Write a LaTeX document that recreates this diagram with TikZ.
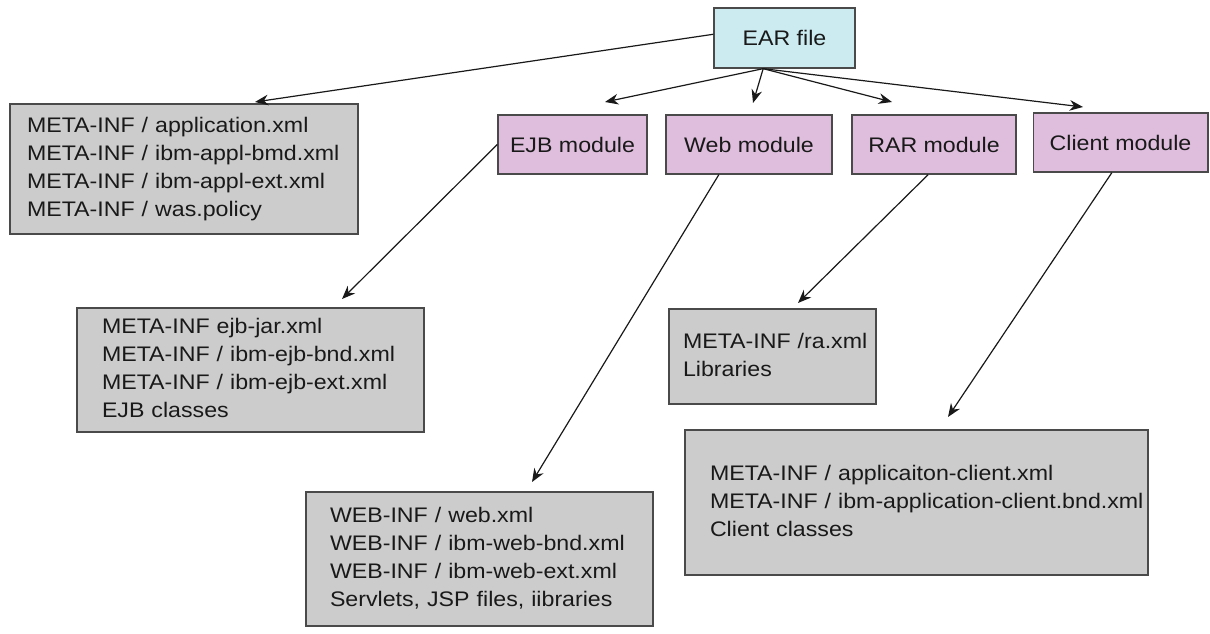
\documentclass[tikz,border=0pt]{standalone}
\usepackage{fontspec}
\setmainfont{Liberation Sans}[FakeStretch=1.1]
\usetikzlibrary{arrows.meta,calc,positioning}

\definecolor{earfill}{HTML}{CBEBF1}
\definecolor{modfill}{HTML}{DFBEDD}
\definecolor{filefill}{HTML}{CCCCCC}
\definecolor{edgegray}{HTML}{4A4A4A}

% one unbroken line per entry
\newcommand{\filelist}[1]{\begin{tabular}{@{}l@{}}#1\end{tabular}}

\tikzset{
  box/.style={rectangle, draw=edgegray, line width=1pt, text=black!90},
  earbox/.style={box, fill=earfill, minimum width=105.75pt, minimum height=45pt},
  modbox/.style={box, fill=modfill, minimum height=44.25pt},
  filebox/.style={box, fill=filefill, align=left},
  arr/.style={-{Stealth[length=10pt,width=8pt]}, line width=0.9pt, black!90}
}

\begin{document}
\begin{tikzpicture}[x=0.75pt,y=-0.75pt,font=\fontsize{15.8pt}{21pt}\selectfont]
    \useasboundingbox (0,0) rectangle (1210,634);

    \node(ear) [earbox] at (784.5,38) {EAR file};

    \node(ejb) [modbox, minimum width=111.75pt] at (572.5,144.5) {EJB module};
    \node(web) [modbox, minimum width=124.5pt] at (749,144.5) {Web module};
    \node(rar) [modbox, minimum width=123pt] at (934,144.5) {RAR module};
    \node(client) [modbox, minimum width=131pt] at (1120.5,142.5) {Client module};

    \node(app) [filebox, text width=235.5pt, inner xsep=12.75pt, minimum height=97.5pt] at (184,169)
      {\filelist{META-INF / application.xml\\META-INF / ibm-appl-bmd.xml\\META-INF / ibm-appl-ext.xml\\META-INF / was.policy}};
    \node(ejbfiles) [filebox, text width=222.75pt, inner xsep=18.75pt, minimum height=93pt] at (250.5,370)
      {\filelist{META-INF ejb-jar.xml\\META-INF / ibm-ejb-bnd.xml\\META-INF / ibm-ejb-ext.xml\\EJB classes}};
    \node(webfiles) [filebox, text width=224.25pt, inner xsep=18pt, minimum height=100.5pt] at (479.5,559)
      {\filelist{WEB-INF / web.xml\\WEB-INF / ibm-web-bnd.xml\\WEB-INF / ibm-web-ext.xml\\Servlets, JSP files, iibraries}};
    \node(rarfiles) [filebox, text width=134.25pt, inner xsep=10.5pt, minimum height=71.25pt] at (772.5,356.5)
      {\filelist{META-INF /ra.xml\\Libraries}};
    \node(clientfiles) [filebox, text width=309.75pt, inner xsep=18.75pt, minimum height=108.75pt] at (916.5,502.5)
      {\filelist{META-INF / applicaiton-client.xml\\META-INF / ibm-application-client.bnd.xml\\Client classes}};

    % loose arrow ends
    \coordinate (earfoot) at ([xshift=-16pt]ear.south);
    \coordinate (appin) at (255,102);
    \coordinate (ejbin) at (605,102);
    \coordinate (webin) at (753,103);
    \coordinate (rarin) at (892,102);
    \coordinate (clientin) at (1083,107);
    \coordinate (ejbfilesin) at (342,299);
    \coordinate (webfilesin) at (532,482);
    \coordinate (rarfilesin) at (798,303);
    \coordinate (clientfilesin) at (948,417);

    \draw[arr] (ear.177) -- (appin);
    \draw[arr] (earfoot) -- (ejbin);
    \draw[arr] (earfoot) -- (webin);
    \draw[arr] (earfoot) -- (rarin);
    \draw[arr] (earfoot) -- (clientin);

    \draw[arr] (ejb.west) -- (ejbfilesin);
    \draw[arr] (web.225) -- (webfilesin);
    \draw[arr] (rar.259) -- (rarfilesin);
    \draw[arr] (client.254) -- (clientfilesin);
  \end{tikzpicture}
\end{document}
